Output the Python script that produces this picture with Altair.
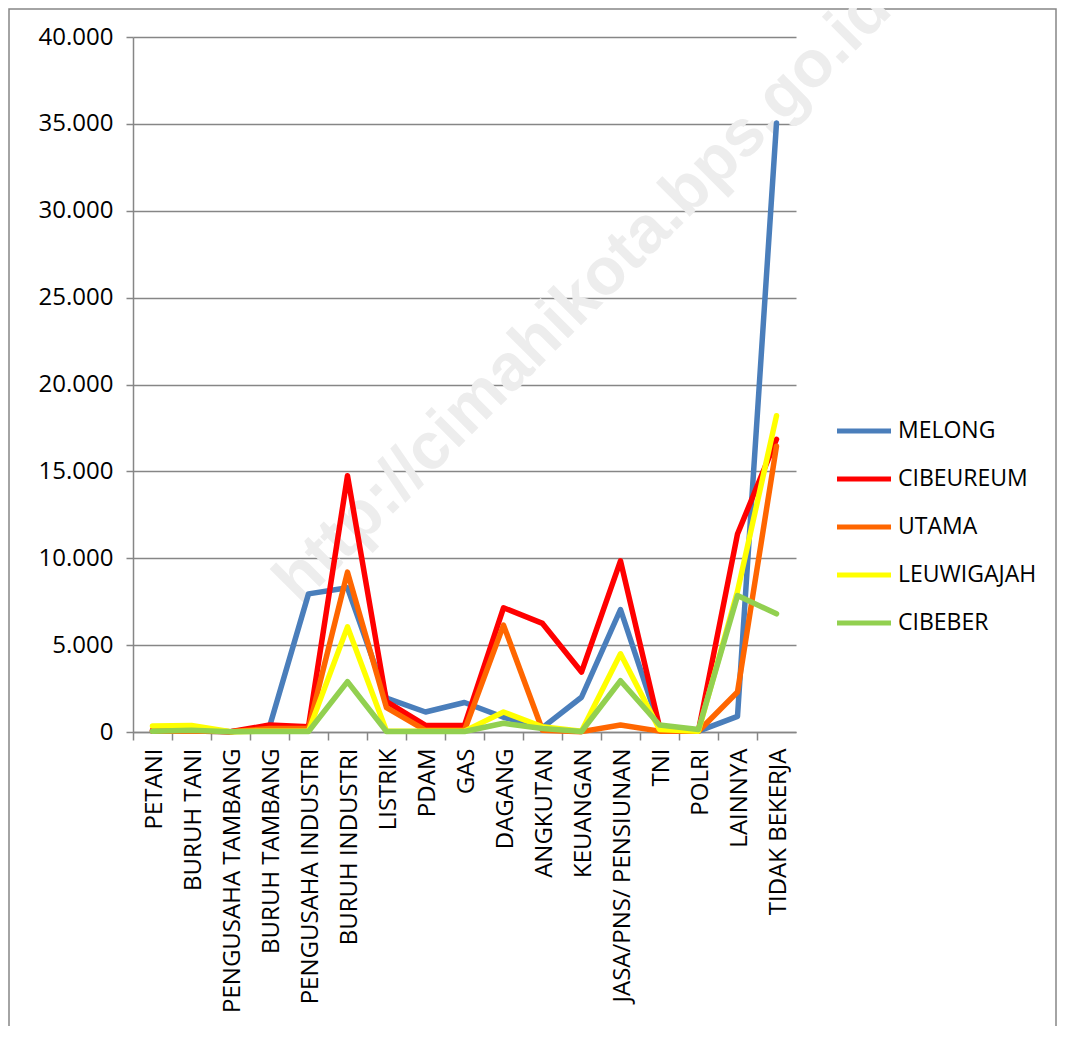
import altair as alt
import pandas as pd

categories = ["PETANI", "BURUH TANI", "PENGUSAHA TAMBANG", "BURUH TAMBANG",
              "PENGUSAHA INDUSTRI", "BURUH INDUSTRI", "LISTRIK", "PDAM", "GAS",
              "DAGANG", "ANGKUTAN", "KEUANGAN", "JASA/PNS/ PENSIUNAN", "TNI",
              "POLRI", "LAINNYA", "TIDAK BEKERJA"]
series = ["MELONG", "CIBEUREUM", "UTAMA", "LEUWIGAJAH", "CIBEBER"]
colors = ["#4A7EBB", "#FF0000", "#FF6600", "#FFFF00", "#92D050"]

melong = [50, 60, 10, 300, 7950, 8300, 1950, 1150, 1700, 850, 250, 2000, 7050, 300, 50, 900, 35050]
cibeureum = [100, 120, 10, 400, 300, 14750, 1750, 380, 380, 7150, 6250, 3450, 9850, 300, 80, 11400, 16850]
utama = [50, 60, 10, 200, 200, 9200, 1400, 100, 100, 6150, 100, 20, 400, 50, 40, 2300, 16450]
leuwigajah = [350, 380, 20, 50, 50, 6050, 50, 50, 50, 1150, 300, 50, 4500, 150, 50, 8100, 18200]
cibeber = [50, 100, 10, 30, 30, 2900, 30, 30, 30, 500, 200, 30, 2950, 400, 150, 7850, 6800]

y_ticks = [0, 5000, 10000, 15000, 20000, 25000, 30000, 35000, 40000]
watermark = "http://cimahikota.bps.go.id"

values = [melong, cibeureum, utama, leuwigajah, cibeber]
rows = []
for s_i, (name, vals) in enumerate(zip(series, values)):
    for c_i, (cat, v) in enumerate(zip(categories, vals)):
        rows.append({"kategori": cat, "wilayah": name, "jumlah": v, "urut": s_i})
df = pd.DataFrame(rows)

W, H = 663, 695
FONT = "Open Sans"
GRAY = "#868686"

border = alt.Chart(pd.DataFrame({"b": [1]})).mark_rect(
    fill=None, stroke=GRAY, strokeWidth=1.5
).encode(
    x=alt.value(-124), x2=alt.value(923), y=alt.value(-28), y2=alt.value(1020)
)

wm = alt.Chart(pd.DataFrame({"t": [watermark]})).mark_text(
    font="Liberation Sans", fontWeight="bold", fontSize=66, angle=315,
    align="center", baseline="middle", color="#ededed"
).encode(
    text="t:N", x=alt.value(450), y=alt.value(258)
)

lines = alt.Chart(df).mark_line(
    strokeWidth=5.5, strokeCap="round", strokeJoin="round"
).encode(
    x=alt.X("kategori:N", sort=categories,
            scale=alt.Scale(type="band", paddingInner=0, paddingOuter=0),
            axis=alt.Axis(title=None, labelAngle=270, labelFont=FONT, labelFontSize=24,
                          labelColor="#000000", bandPosition=0, labelOffset=2.5,
                          tickColor=GRAY, tickWidth=1.5, tickSize=8, domainColor=GRAY,
                          domainWidth=1.5, labelPadding=8, grid=False, labelLimit=400)),
    y=alt.Y("jumlah:Q", scale=alt.Scale(domain=[0, 40000], nice=False),
            axis=alt.Axis(title=None, values=y_ticks, labelFont=FONT, labelFontSize=24,
                          labelColor="#000000",
                          labelExpr="replace(format(datum.value, ','), ',', '.')",
                          tickColor=GRAY, tickWidth=1.5, tickSize=7, domainColor=GRAY,
                          domainWidth=1.5, gridColor=GRAY, gridWidth=1.5, labelPadding=13)),
    color=alt.Color("wilayah:N", sort=series,
                    scale=alt.Scale(domain=series, range=colors),
                    legend=alt.Legend(title=None, orient="none", legendX=715, legendY=378,
                                      symbolType="M-2,0L2,0", symbolSize=729,
                                      symbolStrokeWidth=5, labelFont=FONT,
                                      labelFontSize=23, labelColor="#000000",
                                      labelOffset=18, rowPadding=20, padding=0)),
    order=alt.Order("urut:Q"),
    detail="urut:Q",
)

chart = alt.layer(border, wm, lines).properties(
    width=W, height=H,
    padding={"left": 125, "top": 29, "right": 261, "bottom": 294},
    autosize=alt.AutoSizeParams(type="none"),
    background="#ffffff",
).configure_view(stroke=None)

chart.save("out.html", embed_options={"renderer": "svg", "actions": False})
